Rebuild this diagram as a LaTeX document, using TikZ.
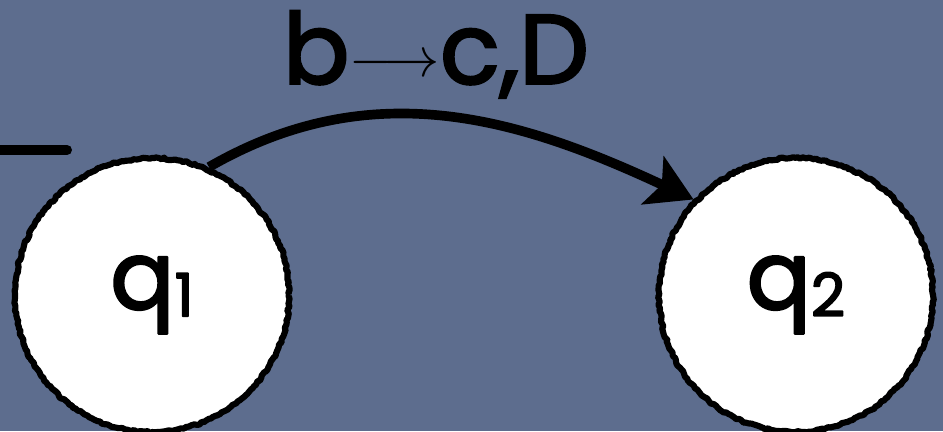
\documentclass[tikz,border=0pt]{standalone}
\usepackage{fontspec}
\setmainfont{Poppins}
\newfontfamily\chalk{Poppins}[FakeBold=2.5]
\usepackage{xcolor}
\usetikzlibrary{arrows.meta, positioning, decorations.pathmorphing}

\definecolor{slate}{RGB}{93,109,142}
\newcommand{\sub}[1]{{\fontsize{34}{34}\selectfont\raisebox{-0.12em}{#1}}}
\newcommand{\maps}{\raisebox{4pt}{\scalebox{3.2}{\normalsize$\longrightarrow$}}}

\begin{document}
\begin{tikzpicture}[
  state/.style={circle, draw, fill=white, line width=3.5pt, line join=round,
    minimum size=5.48cm, inner sep=0pt,
    decorate, decoration={random steps, segment length=1.5pt, amplitude=0.6pt},
    font=\fontsize{54}{60}\chalk},
  trans/.style={-{Stealth[length=9mm, width=10.5mm, inset=2mm]}, line width=5.5pt},
  edgelabel/.style={font=\fontsize{56}{60}\chalk, inner sep=0pt}
]
\fill[slate] (0,0) rectangle (18.86,8.62);
\useasboundingbox (0,0) rectangle (18.86,8.62);

\node[state] (q1) at (3.04,2.72) {q\sub{1}};
\node[state, on grid, right=12.88cm of q1] (q2) {q\sub{2}};

% start marker, cut off at the left edge
\coordinate (init-a) at (-0.3,5.62);
\coordinate (init-b) at (1.34,5.62);
\draw[line width=0.2cm, line cap=round] (init-a) -- (init-b);

\draw[trans] (q1.66) to[out=30, in=155]
  node[edgelabel, midway, above=3mm, xshift=-2.5mm] (lbl) {b\maps c,D} (q2.137);
\end{tikzpicture}
\end{document}
